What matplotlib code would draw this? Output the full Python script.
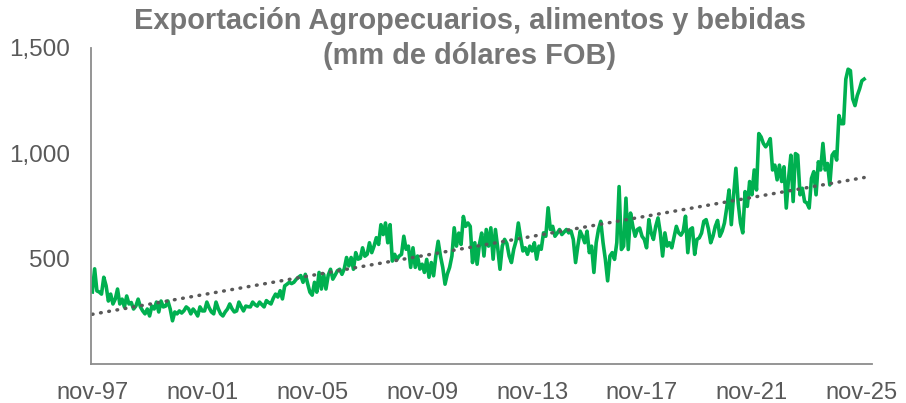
import numpy as np
import matplotlib.pyplot as plt

# exportaciones mensuales desde nov-97 (mm de dolares FOB)
valores = [
    340, 450, 345, 340, 330, 410, 370, 297, 330, 283, 306, 354,
    283, 306, 269, 321, 283, 290, 259, 273, 306, 269, 250, 236,
    259, 226, 273, 259, 292, 245, 297, 269, 273, 297, 259, 203,
    245, 236, 250, 240, 251, 269, 260, 236, 259, 245, 226, 269,
    250, 250, 292, 265, 245, 236, 292, 260, 236, 226, 245, 259,
    283, 260, 245, 250, 292, 270, 250, 273, 270, 269, 292, 280,
    273, 292, 280, 269, 299, 290, 283, 310, 330, 316, 346, 307,
    369, 377, 386, 380, 386, 400, 410, 418, 386, 424, 380, 339,
    325, 386, 339, 433, 354, 424, 354, 420, 448, 401, 420, 441,
    448, 424, 450, 504, 464, 504, 448, 527, 496, 500, 550, 510,
    519, 574, 527, 558, 598, 566, 660, 613, 668, 574, 660, 487,
    519, 495, 511, 519, 605, 543, 558, 457, 550, 457, 511, 449,
    472, 433, 495, 410, 480, 417, 511, 581, 511, 457, 377, 425,
    457, 511, 645, 558, 620, 566, 699, 652, 668, 652, 480, 574,
    472, 566, 620, 511, 637, 558, 645, 496, 637, 550, 448, 558,
    590, 570, 511, 480, 543, 582, 668, 598, 535, 550, 519, 558,
    535, 574, 496, 558, 543, 621, 605, 740, 637, 652, 605, 620,
    637, 613, 625, 637, 621, 630, 590, 480, 560, 629, 605, 574,
    629, 527, 558, 433, 574, 637, 676, 574, 495, 393, 511, 527,
    495, 574, 841, 542, 558, 786, 542, 715, 652, 605, 637, 644,
    605, 590, 550, 684, 621, 590, 652, 692, 621, 511, 621, 558,
    574, 550, 600, 652, 621, 610, 629, 700, 527, 637, 645, 519,
    590, 597, 620, 676, 684, 640, 574, 605, 652, 680, 605, 629,
    668, 740, 825, 660, 800, 928, 763, 668, 621, 817, 747, 865,
    802, 920, 825, 1093, 1077, 1046, 1030, 1046, 1069, 920, 943, 873,
    943, 865, 935, 739, 880, 990, 770, 998, 990, 802, 833, 770,
    763, 739, 880, 912, 802, 959, 920, 1046, 920, 951, 849, 990,
    1006, 967, 1179, 1140, 1140, 1352, 1399, 1392, 1258, 1226, 1274, 1305,
    1344, 1352,
]
# tendencia lineal (valor al inicio y al final)
tendencia = [234, 884]
etiquetas_x = ["nov-97", "nov-01", "nov-05", "nov-09", "nov-13", "nov-17", "nov-21", "nov-25"]
ticks_y = [500, 1000, 1500]
etiquetas_y = ["500", "1,000", "1,500"]

meses = np.arange(len(valores))

gris = "#595959"
fig = plt.figure(figsize=(9.06, 4.03), dpi=100)
ax = fig.add_axes([0.1004, 0.098, 0.862, 0.783])

ax.plot(meses, valores, color="#00B050", linewidth=2.6, solid_joinstyle="round")
ax.plot([meses[0], meses[-1]], tendencia, color=gris, linewidth=2.5,
        linestyle=(0, (0.2, 2.2)), dash_capstyle="round")

ax.set_xlim(-0.6, 340.4)
ax.set_ylim(0, 1500)
ax.set_xticks(np.arange(0, len(valores), 48), etiquetas_x)
ax.set_yticks(ticks_y, etiquetas_y)
ax.tick_params(length=0, colors=gris)
ax.tick_params(axis="x", pad=13, labelsize=17)
ax.tick_params(axis="y", pad=15, labelsize=17.5)
for lado in ["top", "right"]:
    ax.spines[lado].set_visible(False)
for lado in ["left", "bottom"]:
    ax.spines[lado].set_color("#8c8c8c")
    ax.spines[lado].set_linewidth(1.3)

for t in ax.get_xticklabels() + ax.get_yticklabels():
    t.set_fontfamily("Liberation Sans")

fig.text(470 / 906, 1 - 7 / 403, "Exportación Agropecuarios, alimentos y bebidas\n(mm de dólares FOB)",
         ha="center", va="top", fontsize=20.9, fontweight="bold", color="#767676",
         family="Liberation Sans", linespacing=1.33)

plt.savefig("out.png")
